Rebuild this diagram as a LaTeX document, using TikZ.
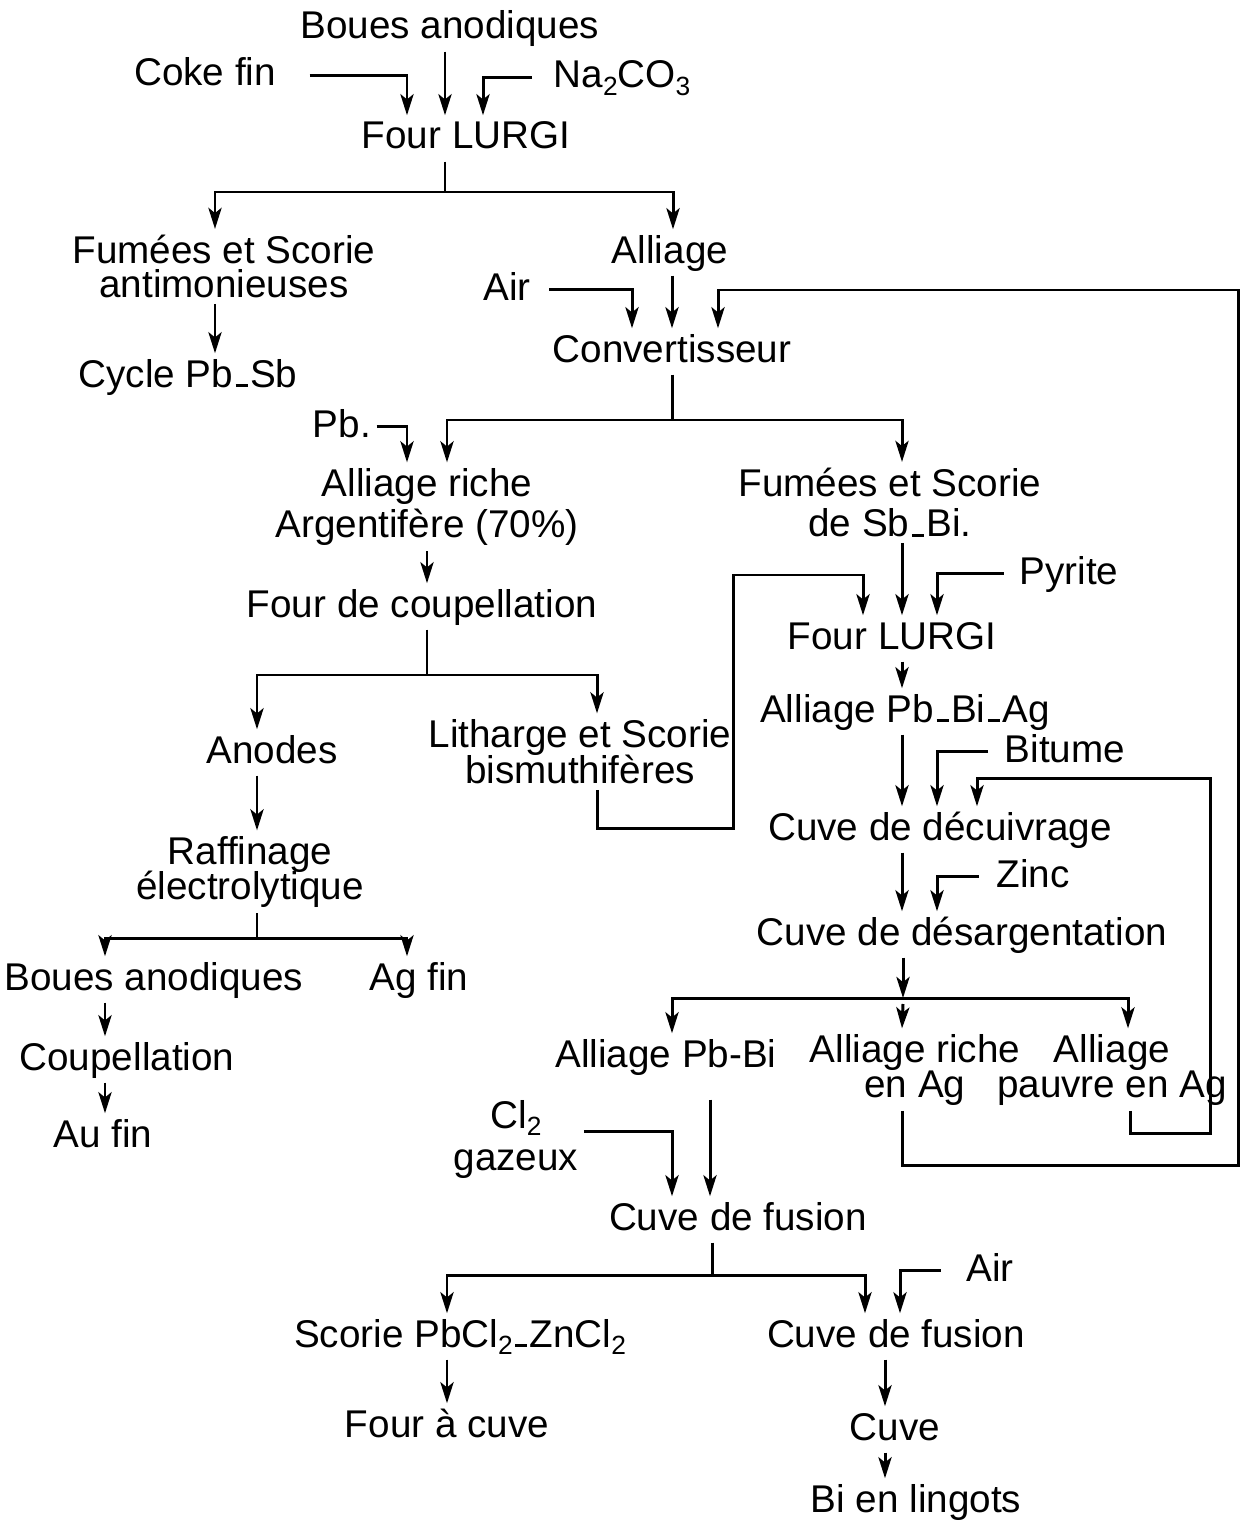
\documentclass[tikz,border=0pt]{standalone}
\usepackage{fontspec}
\setmainfont{Liberation Sans}
\usetikzlibrary{arrows.meta}
% chemical subscript, set low and fairly large
\newcommand\chsub[1]{\raisebox{-0.35ex}{\fontsize{15}{15}\selectfont #1}}
% short dash sitting on the baseline (Pb_Sb, Sb_Bi ...)
\newcommand\lowdash{\kern0.06em\rule{0.32em}{0.08em}\kern0.06em}
% two centred lines with a given baseline distance; baseline = first line
\newcommand\twoline[3][20pt]{\vtop{\baselineskip=#1\lineskiplimit=-\maxdimen
  \halign{\hfil##\hfil\cr #2\cr #3\cr}}}
\begin{document}
\begin{tikzpicture}[x=0.02cm,y=-0.02cm,
  lbl/.style={inner sep=3pt, anchor=base, font=\fontsize{22}{22}\selectfont},
  one/.style={lbl, text height=16pt, text depth=4pt},
  two/.style={lbl},
  link/.style={line width=1.7pt},
  arr/.style={link, -{Stealth[length=12pt,width=7.5pt,inset=3pt]}}]
\useasboundingbox (0,0) rectangle (1248,1524);

% ---------- labels ----------
\node[one] (boues)  at (450,39)   {Boues anodiques};
\node[one] (coke)   at (205,86)   {Coke fin};
\node[one] (na)     at (622,88)   {Na\chsub{2}CO\chsub{3}};
\node[one] (lurgi)  at (466,149)  {Four LURGI};
\node[two] (fumA)   at (224,263)  {\twoline[19.8pt]{Fumées et Scorie}{antimonieuses}};
\node[one] (alliage) at (670,263) {Alliage};
\node[one] (airA)   at (507,300)  {Air};
\node[one] (cycle)  at (188,387)  {Cycle Pb\lowdash Sb};
\node[one] (conv)   at (672,362)  {Convertisseur};
\node[one] (pb)     at (342,437)  {Pb.};
\node[two] (argA)   at (427,496)  {\twoline[23.8pt]{Alliage riche}{Argentifère (70\%)}};
\node[two] (fumB)   at (890,496)  {\twoline[23.2pt]{Fumées et Scorie}{de Sb\lowdash Bi.}};
\node[one] (coup)   at (422,617)  {Four de coupellation};
\node[one] (pyr)    at (1069,584) {Pyrite};
\node[one] (lurgiB) at (892,649)  {Four LURGI};
\node[one] (pbbiag) at (905,722)  {Alliage Pb\lowdash Bi\lowdash Ag};
\node[one] (anodes) at (272,763)  {Anodes};
\node[two] (lith)   at (580,747)  {\twoline[21pt]{Litharge et Scorie}{bismuthifères}};
\node[one] (bit)    at (1065,762) {Bitume};
\node[one] (decu)   at (940,840)  {Cuve de décuivrage};
\node[one] (zinc)   at (1033,887) {Zinc};
\node[one] (desarg) at (962,945)  {Cuve de désargentation};
\node[two] (raff)   at (250,864)  {\twoline[20.4pt]{Raffinage}{électrolytique}};
\node[one] (boues2) at (154,990)  {Boues anodiques};
\node[one] (agfin)  at (419,990)  {Ag fin};
\node[one] (coupel) at (127,1070) {Coupellation};
\node[one] (aufin)  at (103,1147) {Au fin};
\node[one] (pbbi)   at (666,1067) {Alliage Pb-Bi};
\node[two] (rag)    at (915,1062) {\twoline[20pt]{Alliage riche}{en Ag}};
\node[two] (pauv)   at (1112,1062){\twoline[20pt]{Alliage}{pauvre en Ag}};
\node[two] (cl)     at (516,1128) {\twoline[24pt]{Cl\chsub{2}}{gazeux}};
\node[one] (fusion) at (738,1230) {Cuve de fusion};
\node[one] (airC)   at (990,1281) {Air};
\node[one] (scorie) at (460,1347) {Scorie PbCl\chsub{2}\lowdash ZnCl\chsub{2}};
\node[one] (fusB)   at (896,1347) {Cuve de fusion};
\node[one] (fcuve)  at (447,1437) {Four à cuve};
\node[one] (cuve)   at (895,1440) {Cuve};
\node[one] (ling)   at (916,1512) {Bi en lingots};

% ---------- junctions ----------
\coordinate (s1) at (445,192);
\coordinate (s2) at (672,420);
\coordinate (s3) at (427,675);
\coordinate (s4) at (903,998);
\coordinate (s5) at (712,1275);
\coordinate (s6) at (257,938);

% ---------- first furnace ----------
\draw[arr] ([xshift=0.56cm]coke.east) -| (407,0 |- lurgi.north);
\draw[arr] (445,0 |- boues.south) -- (445,0 |- lurgi.north);
\draw[arr] ([xshift=-0.32cm]na.west) -| (483,0 |- lurgi.north);
\draw[link] (445,0 |- lurgi.south) -- (s1);
\draw[arr] (s1) -| (215,0 |- fumA.north);
\draw[arr] (s1) -| (673,0 |- alliage.north);
\draw[arr] (215,0 |- fumA.south) -- (215,0 |- cycle.north);

% ---------- converter ----------
\draw[arr] ([xshift=0.26cm]airA.east) -| (632,0 |- conv.north);
\draw[arr] (672,0 |- alliage.south) -- (672,0 |- conv.north);
\draw[arr] (902,0 |- rag.south) -- (902,1165) -- (1238,1165) -- (1238,290)
           -- (718,290) -- (718,0 |- conv.north);
\draw[link] (672,0 |- conv.south) -- (s2);
\draw[arr] (s2) -| (447,0 |- argA.north);
\draw[arr] (s2) -| (902,0 |- fumB.north);
\draw[arr] (pb.east) -| (407,0 |- argA.north);

% ---------- cupellation branch ----------
\draw[arr] (427,0 |- argA.south) -- (427,0 |- coup.north);
\draw[link] (427,0 |- coup.south) -- (s3);
\draw[arr] (s3) -| (257,0 |- anodes.north);
\draw[arr] (s3) -| (597,0 |- lith.north);
\draw[arr] (597,0 |- lith.south) -- (597,828) -- (733,828) -- (733,575)
           -- (863,575) -- (863,0 |- lurgiB.north);
\draw[arr] (257,0 |- anodes.south) -- (257,0 |- raff.north);
\draw[link] (257,0 |- raff.south) -- (s6);
\draw[arr] (s6) -| (105,0 |- boues2.north);
\draw[arr] (s6) -| (407,0 |- agfin.north);
\draw[arr] (105,0 |- boues2.south) -- (105,0 |- coupel.north);
\draw[arr] (105,0 |- coupel.south) -- (105,0 |- aufin.north);

% ---------- Sb-Bi fumes branch ----------
\draw[arr] (902,0 |- fumB.south) -- (902,0 |- lurgiB.north);
\draw[arr] ([xshift=-0.2cm]pyr.west) -| (937,0 |- lurgiB.north);
\draw[arr] (902,0 |- lurgiB.south) -- (902,0 |- pbbiag.north);
\draw[arr] (902,0 |- pbbiag.south) -- (902,0 |- decu.north);
\draw[arr] ([xshift=-0.22cm]bit.west) -| (937,0 |- decu.north);
\draw[arr] (1130,0 |- pauv.south) -- (1130,1133) -- (1210,1133) -- (1210,778)
           -- (977,778) -- (977,0 |- decu.north);
\draw[arr] (902,0 |- decu.south) -- (902,0 |- desarg.north);
\draw[arr] ([xshift=-0.24cm]zinc.west) -| (937,0 |- desarg.north);
\draw[arr] (903,0 |- desarg.south) -- (s4);
\draw[arr] (s4) -| (672,0 |- pbbi.north);
\draw[arr] (s4) -| (1128,0 |- pauv.north);
\draw[arr] ([yshift=-0.12cm]s4) -- (902,0 |- rag.north);

% ---------- melting ----------
\draw[arr] ([yshift=-0.4cm]710,0 |- pbbi.south) -- (710,0 |- fusion.north);
\draw[arr] ([yshift=-0.06cm]cl.base east) -| (672,0 |- fusion.north);
\draw[link] (712,0 |- fusion.south) -- (s5);
\draw[arr] (s5) -| (447,0 |- scorie.north);
\draw[arr] (s5) -| (865,0 |- fusB.north);
\draw[arr] ([xshift=-0.4cm]airC.west) -| (900,0 |- fusB.north);
\draw[arr] (447,0 |- scorie.south) -- (447,0 |- fcuve.north);
\draw[arr] (885,0 |- fusB.south) -- (885,0 |- cuve.north);
\draw[arr] (885,0 |- cuve.south) -- (885,0 |- ling.north);
\end{tikzpicture}
\end{document}
